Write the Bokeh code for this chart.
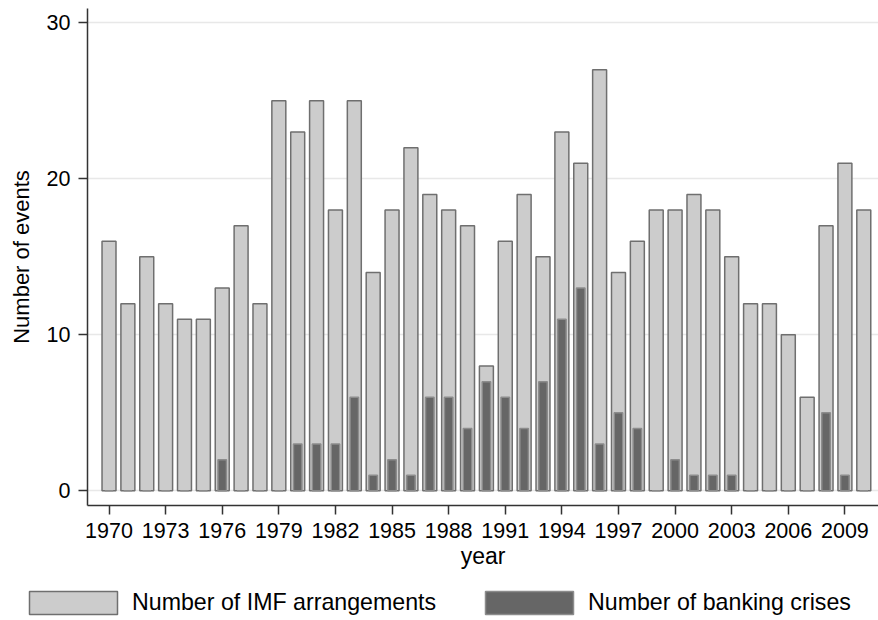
from bokeh.plotting import figure
from bokeh.models import ColumnDataSource, FixedTicker, Legend, LegendItem
from bokeh.embed import file_html
from bokeh.resources import INLINE

years = list(range(1970, 2011))
imf_arrangements = [16, 12, 15, 12, 11, 11, 13, 17, 12, 25,
                    23, 25, 18, 25, 14, 18, 22, 19, 18, 17,
                    8, 16, 19, 15, 23, 21, 27, 14, 16, 18,
                    18, 19, 18, 15, 12, 12, 10, 6, 17, 21, 18]
banking_crises = [0, 0, 0, 0, 0, 0, 2, 0, 0, 0,
                  3, 3, 3, 6, 1, 2, 1, 6, 6, 4,
                  7, 6, 4, 7, 11, 13, 3, 5, 4, 0,
                  2, 1, 1, 1, 0, 0, 0, 0, 5, 1, 0]
x_ticks = list(range(1970, 2010, 3))
y_ticks = [0, 10, 20, 30]
series_labels = ["Number of IMF arrangements", "Number of banking crises"]

FONT = "Liberation Sans"
IMF_FILL, IMF_LINE = "#cccccc", "#6f6f6f"
BANK_FILL, BANK_LINE = "#666666", "#8c8c8c"

src = ColumnDataSource(dict(year=years, imf=imf_arrangements, bank=banking_crises))

X_RANGE = (1968.86, 2010.78)

p = figure(width=878, height=575, output_backend="svg", toolbar_location=None,
           x_range=X_RANGE, y_range=(-0.94, 30.92),
           min_border_left=87, min_border_right=0, min_border_top=8,
           min_border_bottom=70)
p.outline_line_color = None
p.background_fill_color = "white"

p.vbar(x="year", top="imf", bottom=0, width=0.74, source=src,
       fill_color=IMF_FILL, line_color=IMF_LINE, line_width=1.5)
p.vbar(x="year", top="bank", bottom=0, width=0.45, source=src,
       fill_color=BANK_FILL, line_color=BANK_LINE, line_width=1.5)

for ax in (p.xaxis[0], p.yaxis[0]):
    ax.axis_line_color = "#333333"
    ax.axis_line_width = 1.5
    ax.major_tick_line_color = "#333333"
    ax.major_tick_line_width = 1.5
    ax.major_tick_in = 0
    ax.major_tick_out = 9
    ax.minor_tick_line_color = None
    ax.major_label_text_font = FONT
    ax.major_label_text_font_size = "21.5px"
    ax.major_label_text_color = "black"
    ax.axis_label_text_font = FONT
    ax.axis_label_text_font_style = "normal"
    ax.axis_label_text_color = "black"

p.xaxis.axis_label_text_font_size = "23px"
p.yaxis.axis_label_text_font_size = "22px"
p.xaxis.ticker = FixedTicker(ticks=x_ticks)
p.yaxis.ticker = FixedTicker(ticks=y_ticks)
p.xaxis.axis_label = "year"
p.yaxis.axis_label = "Number of events"
p.xaxis.major_label_standoff = 8
p.xaxis.axis_label_standoff = 2
p.yaxis.major_label_standoff = 8
p.yaxis.axis_label_standoff = 10
p.yaxis.major_label_orientation = "horizontal"

p.xgrid.grid_line_color = None
p.ygrid.grid_line_color = "#e8e8e8"
p.ygrid.grid_line_width = 1.5

# legend strip below the chart (separate root so its frame spans the full width)
lp = figure(width=878, height=42, output_backend="svg", toolbar_location=None,
            x_range=X_RANGE, y_range=(-30, -29), x_axis_location=None, y_axis_location=None,
            min_border_left=0, min_border_right=0, min_border_top=0, min_border_bottom=0)
lp.outline_line_color = None
lp.xgrid.grid_line_color = None
lp.ygrid.grid_line_color = None
# hidden copies of the two series: only their legend swatches are drawn
g1 = lp.vbar(x="year", top="imf", bottom=0, width=0.74, source=src, visible=False,
             fill_color=IMF_FILL, line_color=IMF_LINE, line_width=1.5)
g2 = lp.vbar(x="year", top="bank", bottom=0, width=0.45, source=src, visible=False,
             fill_color=BANK_FILL, line_color=BANK_LINE, line_width=1.5)

def make_legend(label, rend, loc):
    return Legend(items=[LegendItem(label=label, renderers=[rend])], location=loc,
                  orientation="horizontal", border_line_color=None,
                  background_fill_alpha=0, padding=0, margin=0,
                  inactive_fill_alpha=0,
                  glyph_width=110, glyph_height=29, label_height=23,
                  label_standoff=4, label_text_font=FONT,
                  label_text_font_size="23.2px", label_text_color="black")

lp.add_layout(make_legend(series_labels[0], g1, (18, 0)), "center")
lp.add_layout(make_legend(series_labels[1], g2, (474, 0)), "center")

open("out.html", "w").write(file_html([p, lp], INLINE))
